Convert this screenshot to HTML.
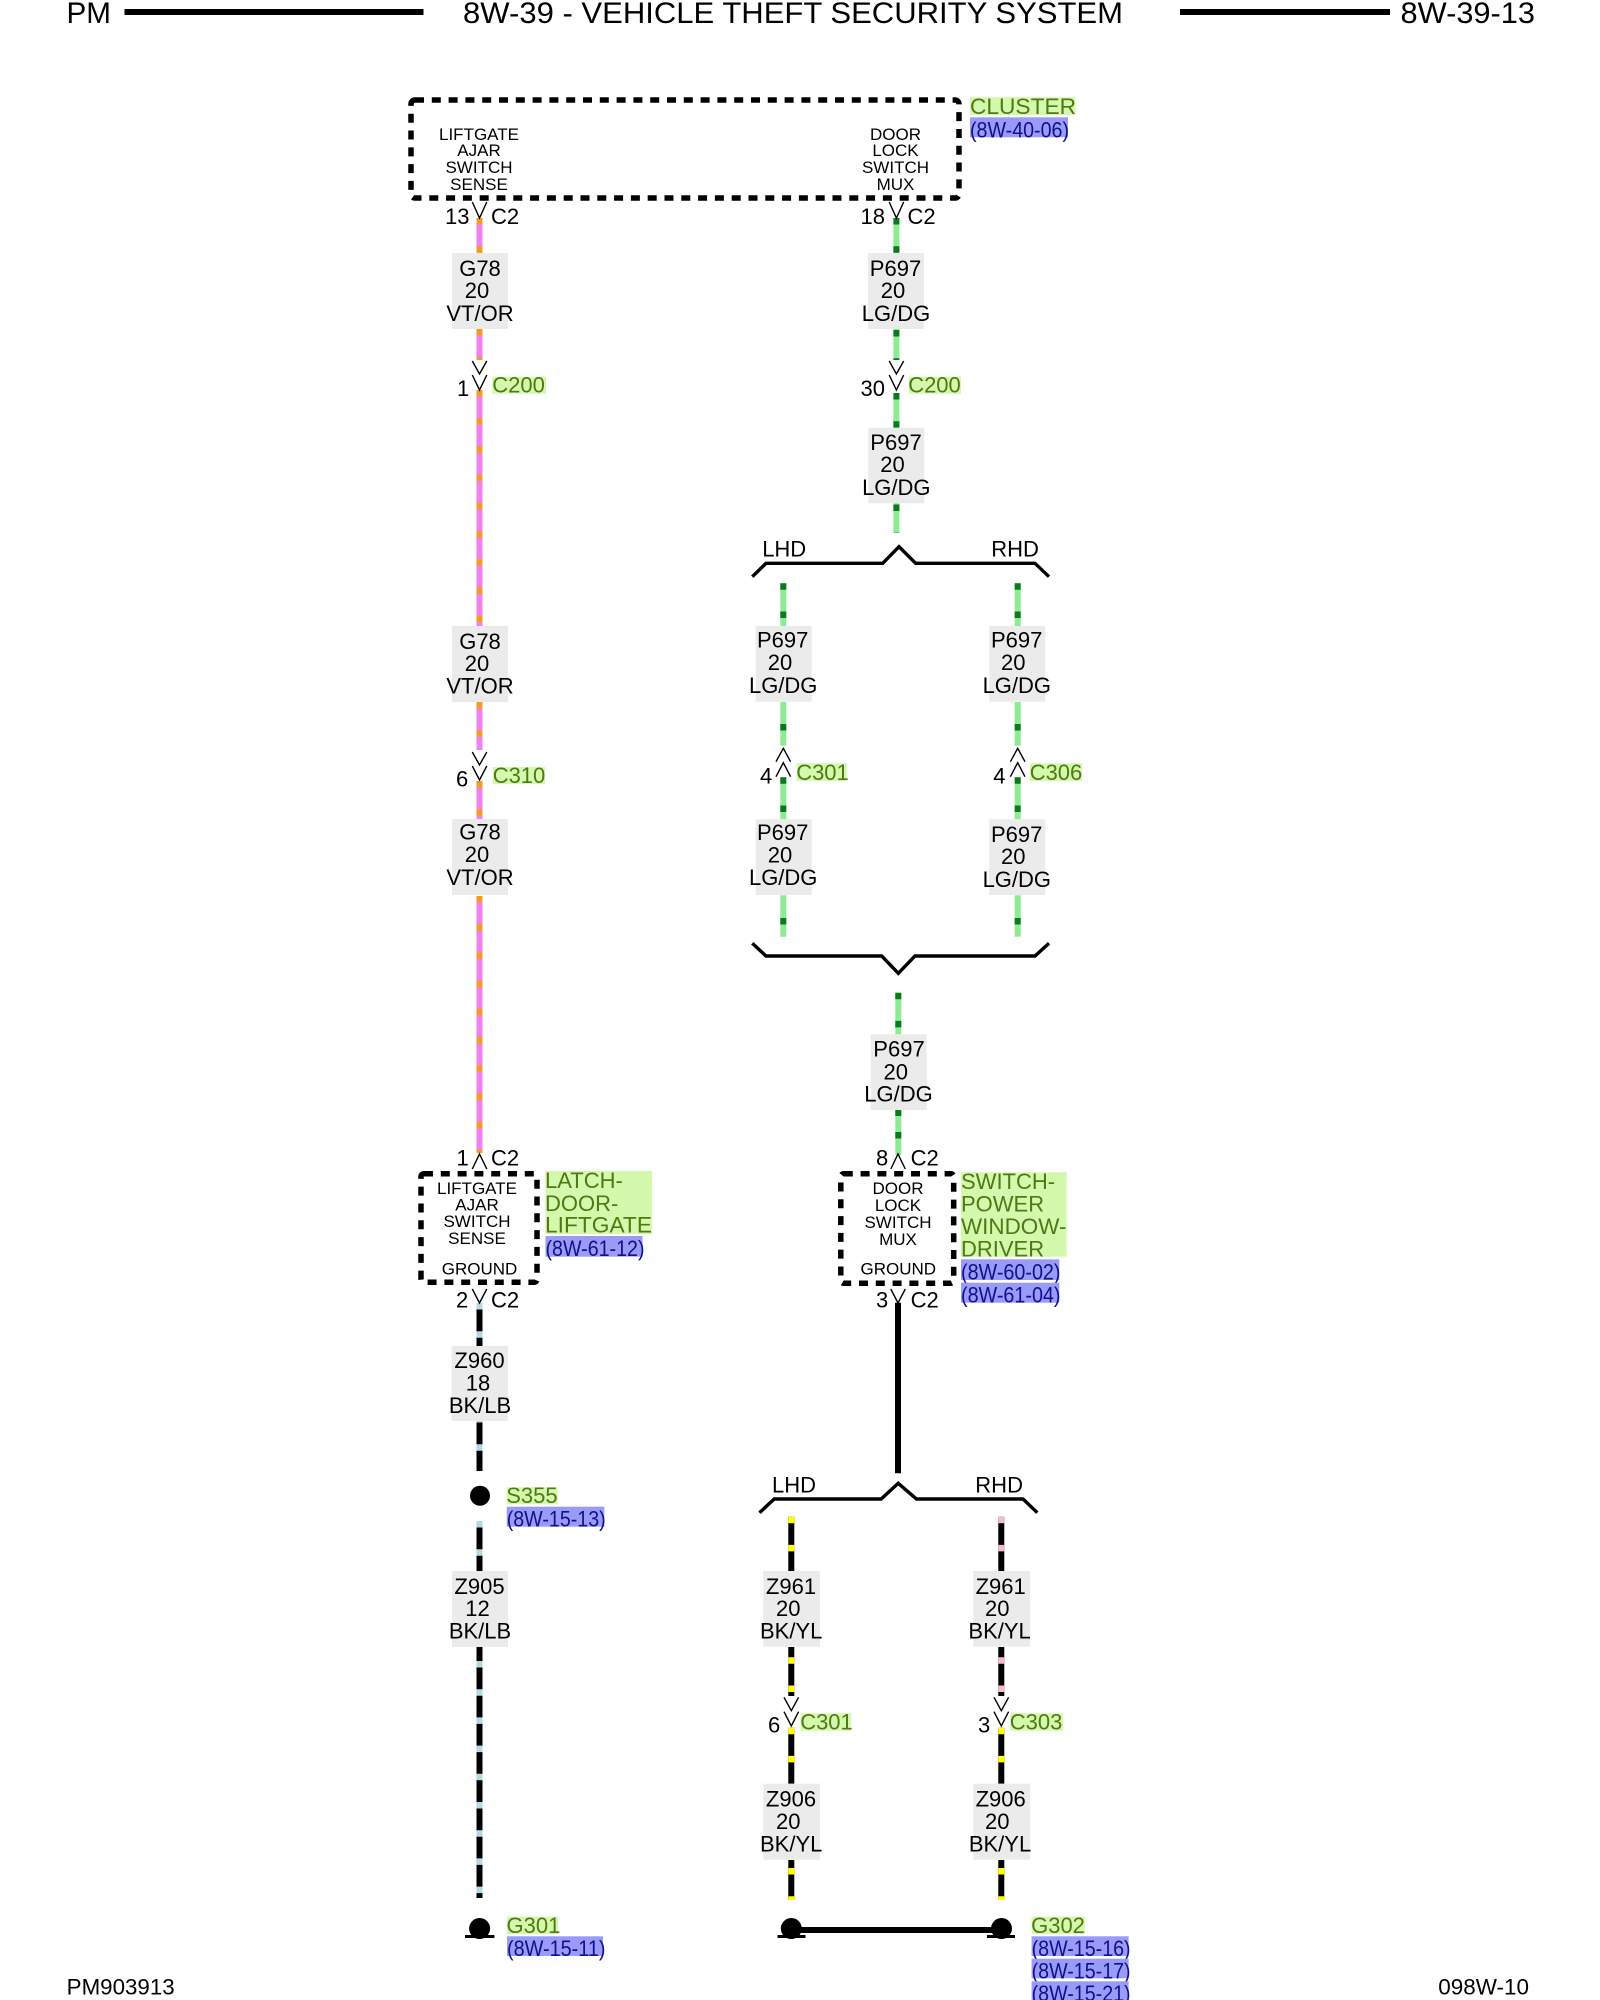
<!DOCTYPE html>
<html><head><meta charset="utf-8"><title>8W-39-13</title>
<style>
html,body{margin:0;padding:0;background:#fff}
svg{display:block}
text{font-family:"Liberation Sans",Arial,sans-serif;font-size:22px;fill:#000}
.h{font-size:30px}
.s{font-size:17px;text-anchor:middle}
.m{text-anchor:middle}
.g{fill:#4d7a12}
.r{fill:#10108c;transform:translateY(1px)}
.gb{fill:#d4f8ac}
.rb{fill:#9a9af8}
.lb{fill:#ebebeb}
.w{fill:none;stroke-width:6}
.d{fill:none;stroke-width:6;stroke-dasharray:6.5 21.7}
.vt{stroke:#ee82ee}.or{stroke:#f59a23}
.lg{stroke:#8eea94}.dg{stroke:#0a7a1e}
.bk{stroke:#000}.lbl{stroke:#b4d8e4}.yl{stroke:#ffff00}.pk{stroke:#f4bccb}
.c{fill:none;stroke:#000;stroke-width:1.4}
.br{fill:none;stroke:#000;stroke-width:3.4}
.bx{fill:none;stroke:#000;stroke-width:5.5;stroke-dasharray:9 7.8}
</style></head><body>
<svg xmlns="http://www.w3.org/2000/svg" width="1600" height="2000" viewBox="0 0 1600 2000">
<rect width="1600" height="2000" fill="#fff"/>

<!-- header -->
<text class="h" x="66.5" y="23" textLength="44.5" lengthAdjust="spacingAndGlyphs">PM</text>
<rect x="124.5" y="9" width="299" height="6"/>
<text class="h" x="463" y="23" textLength="660" lengthAdjust="spacingAndGlyphs">8W-39 - VEHICLE THEFT SECURITY SYSTEM</text>
<rect x="1180" y="9" width="210" height="6"/>
<text class="h" x="1400.5" y="23" textLength="134.5" lengthAdjust="spacingAndGlyphs">8W-39-13</text>

<!-- cluster box -->
<rect class="bx" x="411" y="100" width="548" height="98" rx="4"/>
<rect class="gb" x="970" y="97.3" width="105.5" height="17.7"/>
<text class="g" x="970" y="114" textLength="106" lengthAdjust="spacingAndGlyphs">CLUSTER</text>
<rect class="rb" x="970" y="117.3" width="98" height="20"/>
<text class="r" x="970" y="136.3" textLength="99" lengthAdjust="spacingAndGlyphs">(8W-40-06)</text>
<text class="s" x="479" y="140">LIFTGATE</text>
<text class="s" x="479" y="156">AJAR</text>
<text class="s" x="479" y="173">SWITCH</text>
<text class="s" x="479" y="190">SENSE</text>
<text class="s" x="895.5" y="140">DOOR</text>
<text class="s" x="895.5" y="156">LOCK</text>
<text class="s" x="895.5" y="173">SWITCH</text>
<text class="s" x="895.5" y="190">MUX</text>

<!-- left column wires -->
<path class="w vt" d="M479.5 218V253M479.5 329V360M479.5 390V626M479.5 702V750M479.5 781V819M479.5 896V1153"/>
<path class="d or" d="M479.5 218V253"/>
<path class="d or" d="M479.5 329V360"/>
<path class="d or" d="M479.5 390V626"/>
<path class="d or" d="M479.5 702V750"/>
<path class="d or" d="M479.5 781V819"/>
<path class="d or" d="M479.5 896V1153"/>
<path class="w bk" d="M479.5 1303V1346M479.5 1421V1471M479.5 1521V1571M479.5 1647V1898"/>
<path class="d lbl" d="M479.5 1303V1346"/>
<path class="d lbl" d="M479.5 1416V1471"/>
<path class="d lbl" d="M479.5 1521V1571"/>
<path class="d lbl" d="M479.5 1661V1898"/>

<!-- left labels -->
<rect class="lb" x="452" y="253" width="56" height="76"/>
<text class="m" x="480" y="276">G78</text><text class="m" x="477" y="298">20</text><text class="m" x="480" y="321">VT/OR</text>
<rect class="lb" x="452" y="626" width="56" height="76"/>
<text class="m" x="480" y="649">G78</text><text class="m" x="477" y="671">20</text><text class="m" x="480" y="693.5">VT/OR</text>
<rect class="lb" x="452" y="819" width="56" height="76"/>
<text class="m" x="480" y="839.5">G78</text><text class="m" x="477" y="862">20</text><text class="m" x="480" y="885">VT/OR</text>
<rect class="lb" x="451.5" y="1346" width="56.5" height="75"/>
<text class="m" x="479.5" y="1368">Z960</text><text class="m" x="478" y="1390.5">18</text><text class="m" x="480" y="1413">BK/LB</text>
<rect class="lb" x="452" y="1571" width="56" height="76"/>
<text class="m" x="479.5" y="1594">Z905</text><text class="m" x="477.5" y="1616">12</text><text class="m" x="480" y="1638.5">BK/LB</text>

<!-- left connectors -->
<path class="c" d="M472.3 202L479.5 218L486.8 202"/>
<text x="445" y="224">13</text><text x="491" y="224">C2</text>
<path class="c" d="M472.3 361L479.5 374L486.8 361M472.3 375L479.5 390L486.8 375"/>
<text x="457" y="396">1</text>
<rect class="gb" x="492.3" y="376.7" width="53.7" height="17"/>
<text class="g" x="492.3" y="392.7">C200</text>
<path class="c" d="M472.3 752L479.5 765L486.8 752M472.3 766L479.5 780L486.8 766"/>
<text x="456" y="786.7">6</text>
<rect class="gb" x="492.7" y="767" width="52.3" height="17"/>
<text class="g" x="492.7" y="783">C310</text>
<path class="c" d="M472.3 1169L479.5 1154L486.8 1169"/>
<text x="456.5" y="1165.7">1</text><text x="491" y="1165.7">C2</text>

<!-- liftgate box -->
<rect class="bx" x="421" y="1173.7" width="116" height="108.6" rx="3"/>
<text class="s" x="477" y="1194">LIFTGATE</text>
<text class="s" x="477" y="1210.7">AJAR</text>
<text class="s" x="477" y="1227">SWITCH</text>
<text class="s" x="477" y="1244">SENSE</text>
<text class="s" x="479.5" y="1274.7">GROUND</text>
<rect class="gb" x="545.5" y="1171" width="106.5" height="63"/>
<text class="g" x="545" y="1188">LATCH-</text>
<text class="g" x="545" y="1211">DOOR-</text>
<text class="g" x="545" y="1232.3" textLength="107" lengthAdjust="spacingAndGlyphs">LIFTGATE</text>
<rect class="rb" x="545.5" y="1236" width="97" height="20.7"/>
<text class="r" x="545.5" y="1255" textLength="99" lengthAdjust="spacingAndGlyphs">(8W-61-12)</text>
<path class="c" d="M472.3 1289L479.5 1303L486.8 1289"/>
<text x="456" y="1307.7">2</text><text x="491" y="1307.7">C2</text>

<!-- S355 / G301 -->
<circle cx="480" cy="1495.7" r="10"/>
<rect class="gb" x="506.7" y="1487.3" width="51" height="17"/>
<text class="g" x="506.2" y="1503">S355</text>
<rect class="rb" x="506.7" y="1506.7" width="97.6" height="20"/>
<text class="r" x="506.7" y="1525.7" textLength="99" lengthAdjust="spacingAndGlyphs">(8W-15-13)</text>
<circle cx="479.6" cy="1928.5" r="10.5"/><rect x="465" y="1935" width="29.4" height="3"/>
<rect class="gb" x="507" y="1916.7" width="51" height="17.3"/>
<text class="g" x="506.5" y="1933">G301</text>
<rect class="rb" x="507" y="1936.3" width="96" height="19.7"/>
<text class="r" x="507" y="1955" textLength="98.5" lengthAdjust="spacingAndGlyphs">(8W-15-11)</text>

<!-- right main wires -->
<path class="w lg" d="M896.4 218V253M896.4 329V360M896.4 393V428M896.4 503V533"/>
<path class="d dg" d="M896.4 218V253"/>
<path class="d dg" d="M896.4 330V360"/>
<path class="d dg" d="M896.4 393V428"/>
<path class="d dg" d="M896.4 504.5V533"/>
<rect class="lb" x="868" y="253" width="56" height="76"/>
<text class="m" x="895.5" y="276">P697</text><text class="m" x="893" y="298">20</text><text class="m" x="896" y="321">LG/DG</text>
<rect class="lb" x="868.3" y="427.7" width="56" height="75.6"/>
<text class="m" x="896" y="450">P697</text><text class="m" x="892.5" y="472">20</text><text class="m" x="896.3" y="495">LG/DG</text>
<path class="c" d="M889.2 202L896.4 218L903.7 202"/>
<text x="860.5" y="224">18</text><text x="907.5" y="224">C2</text>
<path class="c" d="M889.2 361L896.4 374L903.7 361M889.2 375L896.4 390L903.7 375"/>
<text x="860.5" y="396">30</text>
<rect class="gb" x="908.7" y="376.7" width="52.3" height="17"/>
<text class="g" x="908.2" y="392.7">C200</text>

<!-- bracket 1 -->
<path class="br" d="M752.3 576.7L766 563.3H882.7L899 546.7L915.7 563.3H1035L1049 576.7"/>
<text x="762.2" y="556.7">LHD</text><text x="991.2" y="556.7">RHD</text>

<!-- LHD/RHD green -->
<path class="w lg" d="M783.3 583.3V626M783.3 702V745.7M783.3 777.3V819.3M783.3 895.3V936.7M1017.7 583.3V626M1017.7 702V745.7M1017.7 777.3V819.3M1017.7 895.3V936.7"/>
<path class="d dg" d="M783.3 583.3V626"/><path class="d dg" d="M783.3 724V745.7"/><path class="d dg" d="M783.3 777.3V819.3"/><path class="d dg" d="M783.3 918V936.7"/>
<path class="d dg" d="M1017.7 583.3V626"/><path class="d dg" d="M1017.7 724V745.7"/><path class="d dg" d="M1017.7 777.3V819.3"/><path class="d dg" d="M1017.7 918V936.7"/>
<rect class="lb" x="755.7" y="626" width="56" height="75.7"/>
<text class="m" x="782.7" y="647.5">P697</text><text class="m" x="780" y="670">20</text><text class="m" x="783.2" y="693">LG/DG</text>
<rect class="lb" x="989.3" y="626" width="56" height="75.7"/>
<text class="m" x="1016.7" y="647.5">P697</text><text class="m" x="1013.3" y="670">20</text><text class="m" x="1016.8" y="693">LG/DG</text>
<path class="c" d="M776 761.7L783.3 748.3L790.6 761.7M776 776.7L783.3 762.7L790.6 776.7"/>
<path class="c" d="M1010.4 761.7L1017.7 748.3L1025 761.7M1010.4 776.7L1017.7 762.7L1025 776.7"/>
<text x="760" y="783.3">4</text><text x="993.3" y="783.3">4</text>
<rect class="gb" x="796.7" y="763.3" width="50" height="17.7"/>
<text class="g" x="796.2" y="780">C301</text>
<rect class="gb" x="1030" y="763.3" width="52" height="17.7"/>
<text class="g" x="1029.7" y="780">C306</text>
<rect class="lb" x="755.7" y="819.3" width="56" height="75.7"/>
<text class="m" x="782.7" y="840">P697</text><text class="m" x="780" y="862.5">20</text><text class="m" x="783.2" y="885">LG/DG</text>
<rect class="lb" x="989.3" y="819.3" width="56" height="75.7"/>
<text class="m" x="1016.7" y="842">P697</text><text class="m" x="1013.3" y="864.2">20</text><text class="m" x="1016.8" y="887">LG/DG</text>

<!-- bracket 2 -->
<path class="br" d="M752.3 943.3L766 956H881.7L898.3 973.3L915 956H1035L1049 943.3"/>

<!-- middle wire -->
<path class="w lg" d="M898.3 992.7V1034.3M898.3 1110V1155"/>
<path class="d dg" d="M898.3 992.7V1034.3"/>
<path class="d dg" d="M898.3 1110V1116"/><path class="d dg" d="M898.3 1132V1138.5"/>
<rect class="lb" x="870.7" y="1034.3" width="56" height="75.7"/>
<text class="m" x="899" y="1056.7">P697</text><text class="m" x="895.7" y="1079.3">20</text><text class="m" x="898.5" y="1101.5">LG/DG</text>
<path class="c" d="M890.8 1169L898 1154L905.3 1169"/>
<text x="876" y="1165.7">8</text><text x="910.6" y="1165.7">C2</text>

<!-- door box -->
<rect class="bx" x="840.8" y="1173.7" width="112.9" height="109.6" rx="3"/>
<text class="s" x="898" y="1194">DOOR</text>
<text class="s" x="898" y="1211">LOCK</text>
<text class="s" x="898" y="1228">SWITCH</text>
<text class="s" x="898" y="1245">MUX</text>
<text class="s" x="898.3" y="1274.7">GROUND</text>
<rect class="gb" x="961" y="1172.3" width="105.7" height="84.4"/>
<text class="g" x="961" y="1189">SWITCH-</text>
<text class="g" x="961" y="1211.7">POWER</text>
<text class="g" x="961" y="1234" textLength="105.5" lengthAdjust="spacingAndGlyphs">WINDOW-</text>
<text class="g" x="961" y="1256.7">DRIVER</text>
<rect class="rb" x="961" y="1259.3" width="98.3" height="20.7"/>
<text class="r" x="961" y="1278.7" textLength="99.5" lengthAdjust="spacingAndGlyphs">(8W-60-02)</text>
<rect class="rb" x="961" y="1282.7" width="98.3" height="20"/>
<text class="r" x="961" y="1301.3" textLength="99.5" lengthAdjust="spacingAndGlyphs">(8W-61-04)</text>
<path class="c" d="M890.8 1289L898 1303L905.3 1289"/>
<text x="876" y="1307.5">3</text><text x="910.6" y="1307.5">C2</text>
<path class="w bk" d="M898 1302.7V1473.3"/>

<!-- bracket 3 -->
<path class="br" d="M759.5 1512.7L774.2 1499H881.2L898.2 1483.3L916.5 1499H1023L1037.3 1512.7"/>
<text x="772" y="1492.7">LHD</text><text x="975.3" y="1492.7">RHD</text>

<!-- lower black wires -->
<path class="w bk" d="M791.3 1516.7V1571M791.3 1647V1696M791.3 1727.7V1783.7M791.3 1860V1900M1001.3 1516.7V1571M1001.3 1647V1696M1001.3 1727.7V1783.7M1001.3 1860V1900"/>
<path class="d yl" d="M791.3 1516.7V1571"/><path class="d yl" d="M791.3 1657.3V1696"/><path class="d yl" d="M791.3 1727.7V1783.7"/><path class="d yl" d="M791.3 1868V1900"/>
<path class="d pk" d="M1001.3 1516.7V1571"/><path class="d pk" d="M1001.3 1657.3V1696"/><path class="d yl" d="M1001.3 1727.7V1783.7"/><path class="d yl" d="M1001.3 1868V1900"/>
<rect class="lb" x="763.3" y="1571" width="56.7" height="75.7"/>
<text class="m" x="791" y="1594">Z961</text><text class="m" x="788.3" y="1616">20</text><text class="m" x="791.2" y="1638.3">BK/YL</text>
<rect class="lb" x="973.3" y="1571" width="56.7" height="75.7"/>
<text class="m" x="1000.7" y="1594">Z961</text><text class="m" x="997.3" y="1616">20</text><text class="m" x="999.6" y="1638.3">BK/YL</text>
<path class="c" d="M784 1697.3L791.3 1710.7L798.6 1697.3M784 1711.7L791.3 1726L798.6 1711.7"/>
<path class="c" d="M994 1697.3L1001.3 1710.7L1008.6 1697.3M994 1711.7L1001.3 1726L1008.6 1711.7"/>
<text x="768" y="1732.3">6</text><text x="978" y="1732.3">3</text>
<rect class="gb" x="800.7" y="1713.3" width="50.3" height="17.4"/>
<text class="g" x="800.2" y="1729.7">C301</text>
<rect class="gb" x="1010.3" y="1713.3" width="52.7" height="17.4"/>
<text class="g" x="1009.8" y="1729.7">C303</text>
<rect class="lb" x="763.3" y="1783.7" width="56.7" height="76"/>
<text class="m" x="791" y="1806.5">Z906</text><text class="m" x="788.3" y="1829">20</text><text class="m" x="791.2" y="1851.7">BK/YL</text>
<rect class="lb" x="973.3" y="1783.7" width="56.7" height="76"/>
<text class="m" x="1000.7" y="1806.5">Z906</text><text class="m" x="997.3" y="1829">20</text><text class="m" x="1000" y="1851.7">BK/YL</text>

<!-- G302 -->
<circle cx="791.3" cy="1928.5" r="10.5"/><rect x="777.5" y="1935" width="28" height="3"/>
<circle cx="1001.5" cy="1928.5" r="10.5"/><rect x="987" y="1935" width="28" height="3"/>
<rect x="791" y="1927" width="210" height="6"/>
<rect class="gb" x="1031.6" y="1916.7" width="53.4" height="17.3"/>
<text class="g" x="1031.1" y="1933">G302</text>
<rect class="rb" x="1031.6" y="1936.3" width="97" height="19.7"/>
<text class="r" x="1031.6" y="1955" textLength="99" lengthAdjust="spacingAndGlyphs">(8W-15-16)</text>
<rect class="rb" x="1031.6" y="1958.7" width="97" height="19.6"/>
<text class="r" x="1031.6" y="1977.3" textLength="99" lengthAdjust="spacingAndGlyphs">(8W-15-17)</text>
<rect class="rb" x="1031.6" y="1981.3" width="97" height="18.7"/>
<text class="r" x="1031.6" y="2000" textLength="99" lengthAdjust="spacingAndGlyphs">(8W-15-21)</text>

<!-- footer -->
<text x="66.7" y="1994.3" textLength="108" lengthAdjust="spacingAndGlyphs">PM903913</text>
<text x="1438.3" y="1994.3" textLength="90.7" lengthAdjust="spacingAndGlyphs">098W-10</text>
</svg>
</body></html>
